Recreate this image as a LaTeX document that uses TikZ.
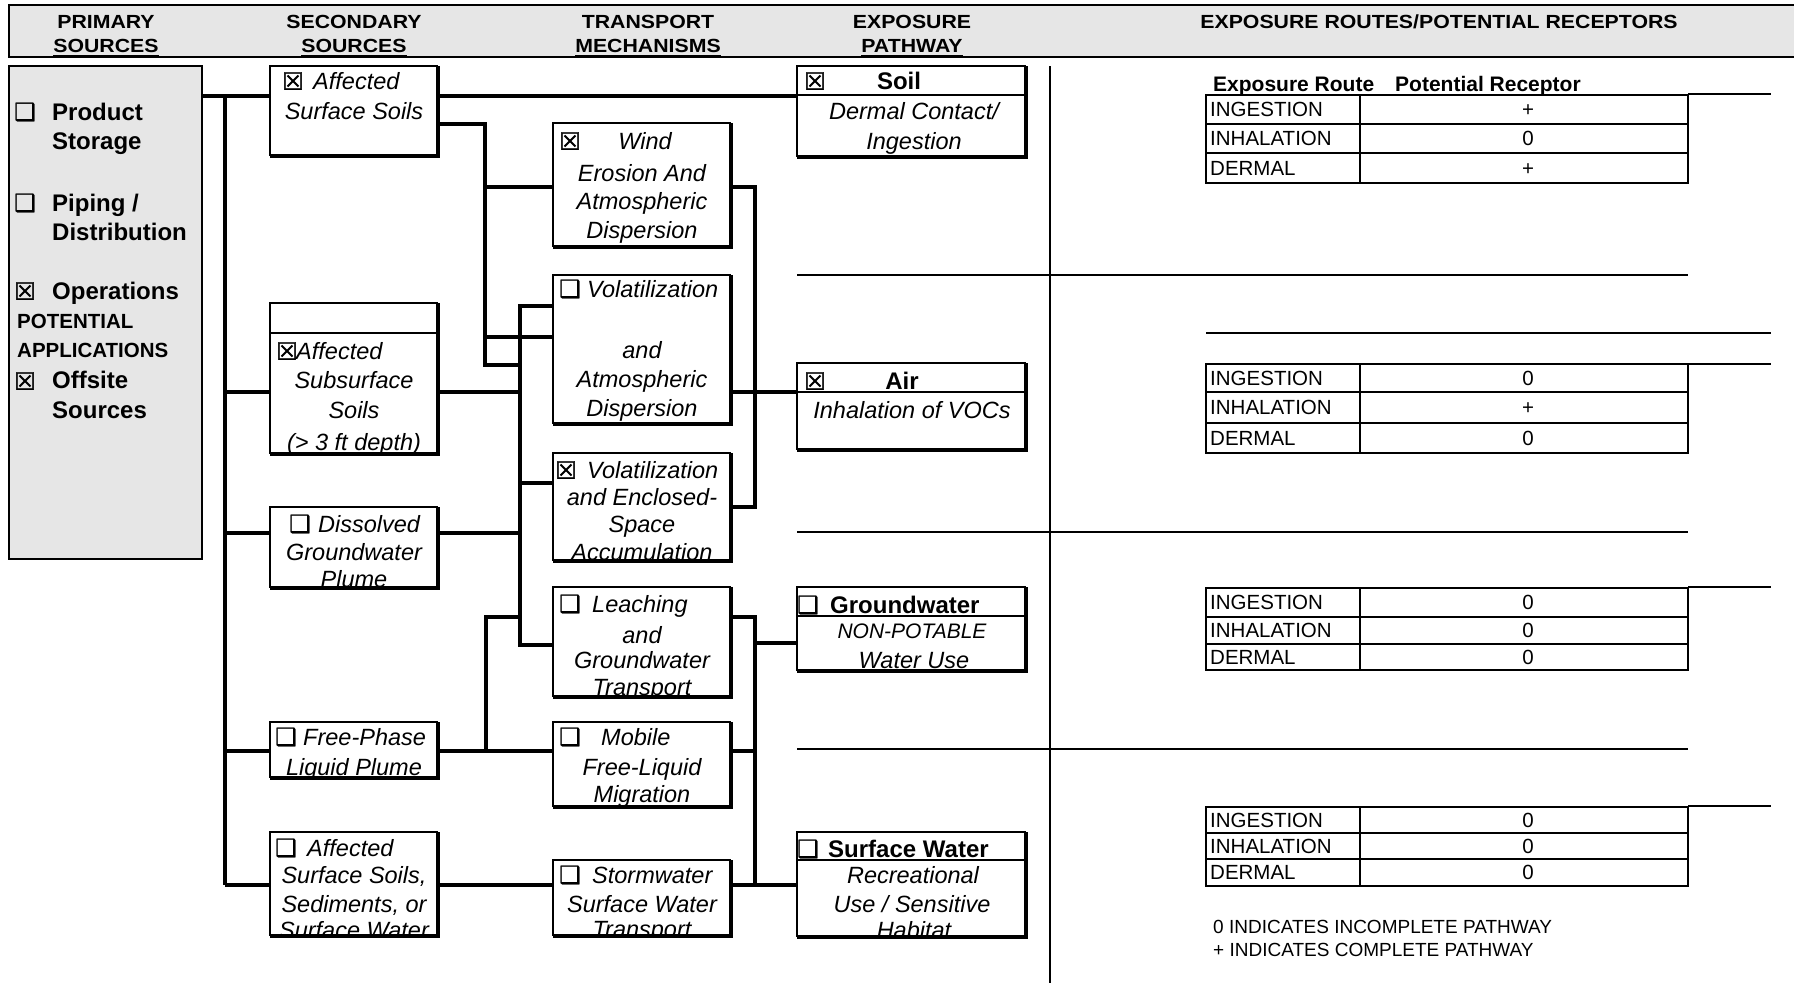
\documentclass[tikz,border=0pt]{standalone}
\usepackage{fontspec}
\setmainfont{Liberation Sans}
\newfontfamily\dvfont[FakeBold=1.2]{DejaVu Sans}
\newfontfamily\hdfont[FakeStretch=1.12]{Liberation Sans}
\definecolor{panelgray}{HTML}{E6E6E6}
\newsavebox\ulbox
\newcommand\ulin[1]{\sbox\ulbox{#1}\rlap{\rule[-4.2pt]{\wd\ulbox}{2.2pt}}\usebox\ulbox}
\newcommand\cbE{❑}
\newcommand\cbX{☒}
\newcommand\mkbox[5]{\node[boxn, minimum width={(#4-#2)*1pt}, minimum height={(#5-#3)*1pt}] (#1) at ({(#2+#4)/2},{(#3+#5)/2}) {};}
\newcommand\bxframe[1]{\draw[thinln] (#1.north east) -- (#1.north west) -- (#1.south west);
  \draw[thickln] (#1.north east) -- (#1.south east) -- (#1.south west);}
\newcommand\rtab[8]{%
  \node[boxn, minimum width=482pt, minimum height={(#5-#2)*1pt}] (#1) at (1447,{(#2+#5)/2}) {};
  \draw[tline] (#1.north west) rectangle (#1.south east);
  \draw[tline] (#1.north west -| 1360,0) -- (#1.south west -| 1360,0);
  \draw[tline] (#1.west |- 0,#3) -- (#1.east |- 0,#3);
  \draw[tline] (#1.west |- 0,#4) -- (#1.east |- 0,#4);
  \node[tbx, anchor=base west] (#1a) at (1210,{(#2+#3)/2+7.4}) {INGESTION};
  \node[tbx, anchor=base west] (#1b) at (1210,{(#3+#4)/2+7.4}) {INHALATION};
  \node[tbx, anchor=base west] (#1c) at (1210,{(#4+#5)/2+7.4}) {DERMAL};
  \node[tbx, anchor=base] (#1d) at (1528,{(#2+#3)/2+7.4}) {#6};
  \node[tbx, anchor=base] (#1e) at (1528,{(#3+#4)/2+7.4}) {#7};
  \node[tbx, anchor=base] (#1f) at (1528,{(#4+#5)/2+7.4}) {#8};
}
\begin{document}
\begin{tikzpicture}[x=1pt,y=-1pt,
  boxn/.style={inner sep=0pt, outer sep=0pt, draw=none},
  thinln/.style={line width=1.3pt},
  thickln/.style={line width=3.8pt, line join=miter},
  conn/.style={line width=3.8pt, line join=miter},
  sepln/.style={line width=1.3pt},
  tline/.style={line width=2.2pt},
  itx/.style={inner sep=0pt, anchor=base, font=\fontsize{23.5}{28}\selectfont\itshape},
  itsm/.style={inner sep=0pt, anchor=base, font=\fontsize{21}{24}\selectfont\itshape},
  bfx/.style={inner sep=0pt, anchor=base, font=\fontsize{24}{28}\selectfont\bfseries},
  bfs/.style={inner sep=0pt, anchor=base, font=\fontsize{20.5}{24}\selectfont\bfseries},
  hdx/.style={inner sep=0pt, anchor=base, font=\hdfont\fontsize{19}{22}\selectfont\bfseries},
  tbx/.style={inner sep=0pt, font=\fontsize{20.5}{24}\selectfont},
  tbh/.style={inner sep=0pt, anchor=base west, font=\fontsize{21}{24}\selectfont\bfseries},
  lgx/.style={inner sep=0pt, anchor=base west, font=\fontsize{19}{22}\selectfont},
  cbs/.style={inner sep=0pt, font=\dvfont\fontsize{24}{24}\selectfont}]
\useasboundingbox (0,0) rectangle (1794,983);
\fill[white] (0,0) rectangle (1794,983);

% header bar
\node[boxn, fill=panelgray, minimum width=1790pt, minimum height=52pt] (hdr) at (904,31) {};
\draw[thinln] (hdr.north east) -- (hdr.north west) -- (hdr.south west) -- (hdr.south east);
\node[hdx] (h1a) at (106,28) {PRIMARY};
\node[hdx] (h1b) at (106,52.5) {\ulin{SOURCES}};
\node[hdx] (h2a) at (354,28) {SECONDARY};
\node[hdx] (h2b) at (354,52.5) {\ulin{SOURCES}};
\node[hdx] (h3a) at (648,28) {TRANSPORT};
\node[hdx] (h3b) at (648,52.5) {\ulin{MECHANISMS}};
\node[hdx] (h4a) at (912,28) {EXPOSURE};
\node[hdx] (h4b) at (912,52.5) {\ulin{PATHWAY}};
\node[hdx] (h5a) at (1439,28) {EXPOSURE ROUTES/POTENTIAL RECEPTORS};

% primary sources
\node[boxn, fill=panelgray, draw, line width=1.3pt, minimum width=193pt, minimum height=493pt] (prim) at (105.5,312.5) {};
\node[cbs] (pc1) at (25,112) {\cbE};
\node[bfx, anchor=base west] (p1) at (52,120) {Product};
\node[bfx, anchor=base west] (p2) at (52,149) {Storage};
\node[cbs] (pc2) at (25,203) {\cbE};
\node[bfx, anchor=base west] (p3) at (52,211) {Piping /};
\node[bfx, anchor=base west] (p4) at (52,240) {Distribution};
\node[cbs] (pc3) at (25,291) {\cbX};
\node[bfx, anchor=base west] (p5) at (52,299) {Operations};
\node[bfs, anchor=base west] (p6) at (17,328) {POTENTIAL};
\node[bfs, anchor=base west] (p7) at (17,357) {APPLICATIONS};
\node[cbs] (pc4) at (25,381) {\cbX};
\node[bfx, anchor=base west] (p8) at (52,388) {Offsite};
\node[bfx, anchor=base west] (p9) at (52,418) {Sources};

% secondary sources
\mkbox{se1}{270}{66}{438}{156}
\begin{scope}\clip (se1.south west) rectangle (se1.north east);
\node[cbs] (se1c) at (293,81) {\cbX};
\node[itx, anchor=base west] (se1a) at (313,89) {Affected};
\node[itx] (se1b) at (354,119) {Surface Soils};
\end{scope}
\bxframe{se1}

\mkbox{se2}{270}{303}{438}{454}
\begin{scope}\clip (se2.south west) rectangle (se2.north east);
\node[cbs] (se2c) at (287,351) {\cbX};
\node[itx, anchor=base west] (se2a) at (296,359) {Affected};
\node[itx] (se2b) at (354,388) {Subsurface};
\node[itx] (se2d) at (354,418) {Soils};
\node[itx] (se2e) at (354,450) {(> 3 ft depth)};
\end{scope}
\draw[thinln] (se2.west |- 0,333) -- (se2.east |- 0,333);
\bxframe{se2}

\mkbox{se3}{270}{507}{438}{588}
\begin{scope}\clip (se3.south west) rectangle (se3.north east);
\node[cbs] (se3c) at (300,524) {\cbE};
\node[itx, anchor=base west] (se3a) at (318,532) {Dissolved};
\node[itx] (se3b) at (354,560) {Groundwater};
\node[itx] (se3d) at (354,587) {Plume};
\end{scope}
\bxframe{se3}

\mkbox{se4}{270}{722}{438}{778}
\begin{scope}\clip (se4.south west) rectangle (se4.north east);
\node[cbs] (se4c) at (286,737) {\cbE};
\node[itx, anchor=base west] (se4a) at (303,745) {Free-Phase};
\node[itx] (se4b) at (354,775) {Liquid Plume};
\end{scope}
\bxframe{se4}

\mkbox{se5}{270}{832}{438}{936}
\begin{scope}\clip (se5.south west) rectangle (se5.north east);
\node[cbs] (se5c) at (286,848) {\cbE};
\node[itx, anchor=base west] (se5a) at (307,856) {Affected};
\node[itx] (se5b) at (354,883) {Surface Soils,};
\node[itx] (se5d) at (354,912) {Sediments, or};
\node[itx] (se5e) at (354,938) {Surface Water};
\end{scope}
\bxframe{se5}

% transport mechanisms
\mkbox{tr1}{553}{123}{731}{247}
\begin{scope}\clip (tr1.south west) rectangle (tr1.north east);
\node[cbs] (tr1c) at (570,141) {\cbX};
\node[itx] (tr1a) at (645,149) {Wind};
\node[itx] (tr1b) at (642,181) {Erosion And};
\node[itx] (tr1d) at (642,209) {Atmospheric};
\node[itx] (tr1e) at (642,238) {Dispersion};
\end{scope}
\bxframe{tr1}

\mkbox{tr2}{553}{275}{731}{424}
\begin{scope}\clip (tr2.south west) rectangle (tr2.north east);
\node[cbs] (tr2c) at (570,289) {\cbE};
\node[itx, anchor=base west] (tr2a) at (587,297) {Volatilization};
\node[itx] (tr2b) at (642,358) {and};
\node[itx] (tr2d) at (642,387) {Atmospheric};
\node[itx] (tr2e) at (642,416) {Dispersion};
\end{scope}
\bxframe{tr2}

\mkbox{tr3}{553}{453}{731}{561}
\begin{scope}\clip (tr3.south west) rectangle (tr3.north east);
\node[cbs] (tr3c) at (566,470) {\cbX};
\node[itx, anchor=base west] (tr3a) at (587,478) {Volatilization};
\node[itx] (tr3b) at (642,505) {and Enclosed-};
\node[itx] (tr3d) at (642,532) {Space};
\node[itx] (tr3e) at (642,560) {Accumulation};
\end{scope}
\bxframe{tr3}

\mkbox{tr4}{553}{587}{731}{697}
\begin{scope}\clip (tr4.south west) rectangle (tr4.north east);
\node[cbs] (tr4c) at (570,604) {\cbE};
\node[itx, anchor=base west] (tr4a) at (592,612) {Leaching};
\node[itx] (tr4b) at (642,643) {and};
\node[itx] (tr4d) at (642,668) {Groundwater};
\node[itx] (tr4e) at (642,695) {Transport};
\end{scope}
\bxframe{tr4}

\mkbox{tr5}{553}{722}{731}{807}
\begin{scope}\clip (tr5.south west) rectangle (tr5.north east);
\node[cbs] (tr5c) at (570,737) {\cbE};
\node[itx, anchor=base west] (tr5a) at (601,745) {Mobile};
\node[itx] (tr5b) at (642,775) {Free-Liquid};
\node[itx] (tr5d) at (642,802) {Migration};
\end{scope}
\bxframe{tr5}

\mkbox{tr6}{553}{860}{731}{936}
\begin{scope}\clip (tr6.south west) rectangle (tr6.north east);
\node[cbs] (tr6c) at (570,875) {\cbE};
\node[itx, anchor=base west] (tr6a) at (592,883) {Stormwater};
\node[itx] (tr6b) at (642,912) {Surface Water};
\node[itx] (tr6d) at (642,937) {Transport};
\end{scope}
\bxframe{tr6}

% exposure pathways
\mkbox{ex1}{797}{66}{1026}{157}
\begin{scope}\clip (ex1.south west) rectangle (ex1.north east);
\node[cbs] (ex1c) at (815,81) {\cbX};
\node[bfx] (ex1a) at (899,89) {Soil};
\node[itx] (ex1b) at (914,119) {Dermal Contact/};
\node[itx] (ex1d) at (914,149) {Ingestion};
\end{scope}
\draw[thinln] (ex1.west |- 0,95) -- (ex1.east |- 0,95);
\bxframe{ex1}

\mkbox{ex2}{797}{363}{1026}{450}
\begin{scope}\clip (ex2.south west) rectangle (ex2.north east);
\node[cbs] (ex2c) at (815,381) {\cbX};
\node[bfx] (ex2a) at (902,389) {Air};
\node[itx] (ex2b) at (912,418) {Inhalation of VOCs};
\end{scope}
\draw[thinln] (ex2.west |- 0,392) -- (ex2.east |- 0,392);
\bxframe{ex2}

\mkbox{ex3}{797}{587}{1026}{671}
\begin{scope}\clip (ex3.south west) rectangle (ex3.north east);
\node[cbs] (ex3c) at (808,605) {\cbE};
\node[bfx, anchor=base west] (ex3a) at (830,613) {Groundwater};
\node[itsm] (ex3b) at (912,638) {NON-POTABLE};
\node[itx] (ex3d) at (914,668) {Water Use};
\end{scope}
\draw[thinln] (ex3.west |- 0,616) -- (ex3.east |- 0,616);
\bxframe{ex3}

\mkbox{ex4}{797}{832}{1026}{937}
\begin{scope}\clip (ex4.south west) rectangle (ex4.north east);
\node[cbs] (ex4c) at (808,849) {\cbE};
\node[bfx, anchor=base west] (ex4a) at (828,857) {Surface Water};
\node[itx] (ex4b) at (913,883) {Recreational};
\node[itx] (ex4d) at (912,912) {Use / Sensitive};
\node[itx] (ex4e) at (914,938) {Habitat};
\end{scope}
\draw[thinln] (ex4.west |- 0,860) -- (ex4.east |- 0,860);
\bxframe{ex4}

% connectors: primary -> secondary
\coordinate (tk0) at (225,96);
\coordinate (tk1) at (225,885);
\draw[conn] (prim.east |- tk0) -- (se1.west |- tk0);
\draw[conn] (tk0) -- (tk1);
\draw[conn] (tk0 |- 0,392) -- (se2.west |- 0,392);
\draw[conn] (tk0 |- 0,533) -- (se3.west |- 0,533);
\draw[conn] (tk0 |- 0,751) -- (se4.west |- 0,751);
\draw[conn] (tk1) -- (se5.west |- tk1);

% secondary -> transport / exposure
\coordinate (ja) at (485,124);
\coordinate (jb) at (520,306);
\coordinate (jc) at (486,617);
\draw[conn] (se1.east |- tk0) -- (ex1.west |- tk0);
\draw[conn] (se1.east |- ja) -- (ja) -- (ja |- 0,365) -- (jb |- 0,365);
\draw[conn] (ja |- 0,187) -- (tr1.west |- 0,187);
\draw[conn] (ja |- 0,337) -- (tr2.west |- 0,337);
\draw[conn] (tr2.west |- jb) -- (jb) -- (jb |- 0,645) -- (tr4.west |- 0,645);
\draw[conn] (se2.east |- 0,392) -- (jb |- 0,392);
\draw[conn] (jb |- 0,483) -- (tr3.west |- 0,483);
\draw[conn] (se3.east |- 0,533) -- (jb |- 0,533);
\draw[conn] (jb |- jc) -- (jc) -- (jc |- 0,751);
\draw[conn] (se4.east |- 0,751) -- (tr5.west |- 0,751);
\draw[conn] (se5.east |- tk1) -- (tr6.west |- tk1);

% transport -> exposure
\coordinate (jd) at (755,187);
\coordinate (je) at (755,617);
\draw[conn] (tr1.east |- jd) -- (jd) -- (jd |- 0,507) -- (tr3.east |- 0,507);
\draw[conn] (tr2.east |- 0,392) -- (ex2.west |- 0,392);
\draw[conn] (tr4.east |- je) -- (je) -- (je |- tk1);
\draw[conn] (je |- 0,643) -- (ex3.west |- 0,643);
\draw[conn] (tr5.east |- 0,751) -- (je |- 0,751);
\draw[conn] (tr6.east |- tk1) -- (ex4.west |- tk1);

% separators
\draw[sepln] (1050,66) -- (1050,983);
\draw[sepln] (797,275) -- (1688,275);
\draw[sepln] (797,532) -- (1688,532);
\draw[sepln] (797,749) -- (1688,749);
\draw[sepln] (1688,94) -- (1771,94);
\draw[sepln] (1206,333) -- (1771,333);
\draw[sepln] (1688,364) -- (1771,364);
\draw[sepln] (1688,587) -- (1771,587);
\draw[sepln] (1688,806) -- (1771,806);

% receptor tables
\node[tbh] (th1) at (1213,91) {Exposure Route};
\node[tbh] (th2) at (1395,91) {Potential Receptor};
\rtab{tA}{95}{124}{153}{183}{+}{0}{+}
\rtab{tB}{364}{392}{423}{453}{0}{+}{0}
\rtab{tC}{588}{617}{644}{670}{0}{0}{0}
\rtab{tD}{807}{833}{859}{886}{0}{0}{0}

\node[lgx] (lg1) at (1213,933) {0 INDICATES INCOMPLETE PATHWAY};
\node[lgx] (lg2) at (1213,956) {+ INDICATES COMPLETE PATHWAY};
\end{tikzpicture}
\end{document}
